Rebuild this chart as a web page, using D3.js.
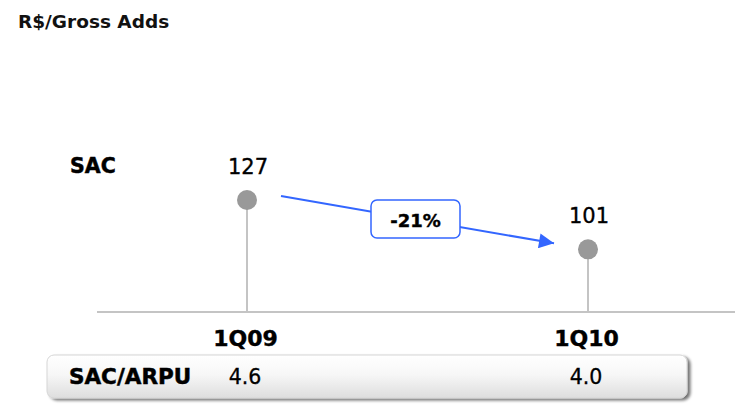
<!DOCTYPE html>
<html>
<head>
<meta charset="utf-8">
<script src="https://cdn.jsdelivr.net/npm/d3@7"></script>
<style>
  html, body { margin: 0; padding: 0; background: #fff; }
  svg { display: block; font-family: "DejaVu Sans", "Liberation Sans", Arial, sans-serif; }
</style>
</head>
<body>
<svg id="chart" width="735" height="404"></svg>
<script>
// Subscriber acquisition cost per gross add, by quarter
const quarters = ["1Q09", "1Q10"];
const sacValues = [127, 101];
const sacArpu = ["4.6", "4.0"];
const changeLabel = "-21%";

const svg = d3.select("#chart");
const W = 735;

const x = d3.scalePoint().domain(quarters).range([247, 588]);
const y = d3.scaleLinear().domain([68, 127]).range([312, 200]);

const defs = svg.append("defs");

const grad = defs.append("linearGradient")
  .attr("id", "bandFill").attr("x1", 0).attr("y1", 0).attr("x2", 0).attr("y2", 1);
grad.append("stop").attr("offset", "0%").attr("stop-color", "#ffffff");
grad.append("stop").attr("offset", "45%").attr("stop-color", "#f7f7f7");
grad.append("stop").attr("offset", "100%").attr("stop-color", "#dedede");

const shadow = defs.append("filter").attr("id", "bandShadow")
  .attr("x", "-5%").attr("y", "-20%").attr("width", "110%").attr("height", "150%");
shadow.append("feGaussianBlur").attr("in", "SourceAlpha").attr("stdDeviation", 1.6).attr("result", "b");
shadow.append("feOffset").attr("in", "b").attr("dx", 2.5).attr("dy", 2).attr("result", "o");
shadow.append("feComponentTransfer").attr("in", "o").attr("result", "s")
  .append("feFuncA").attr("type", "linear").attr("slope", 0.55);
const merge = shadow.append("feMerge");
merge.append("feMergeNode").attr("in", "s");
merge.append("feMergeNode").attr("in", "SourceGraphic");

defs.append("marker")
  .attr("id", "arrowHead")
  .attr("viewBox", "0 0 10 10")
  .attr("refX", 10).attr("refY", 5)
  .attr("markerUnits", "userSpaceOnUse")
  .attr("markerWidth", 17).attr("markerHeight", 15)
  .attr("orient", "auto")
  .append("path").attr("d", "M0,0 L10,5 L0,10 Z").attr("fill", "#3366ff");

// Title
svg.append("text")
  .attr("x", 18).attr("y", 28)
  .attr("font-size", 18.5).attr("font-weight", "bold").attr("fill", "#111")
  .text("R$/Gross Adds");

// Series label
svg.append("text")
  .attr("x", 70).attr("y", 173)
  .attr("font-size", 20.5).attr("font-weight", "bold").attr("fill", "#000")
  .attr("stroke", "#000").attr("stroke-width", 0.5)
  .text("SAC");

// Baseline
svg.append("line")
  .attr("x1", 97).attr("x2", W)
  .attr("y1", y(68)).attr("y2", y(68))
  .attr("stroke", "#c4c4c4").attr("stroke-width", 2);

// Lollipop stems and heads
const pts = quarters.map((q, i) => ({ q, v: sacValues[i], r: sacArpu[i] }));

svg.selectAll("line.stem").data(pts).enter().append("line")
  .attr("class", "stem")
  .attr("x1", d => x(d.q)).attr("x2", d => x(d.q))
  .attr("y1", y(68)).attr("y2", d => y(d.v))
  .attr("stroke", "#c4c4c4").attr("stroke-width", 2);

svg.selectAll("circle.head").data(pts).enter().append("circle")
  .attr("class", "head")
  .attr("cx", d => x(d.q)).attr("cy", d => y(d.v)).attr("r", 10)
  .attr("fill", "#999999");

svg.selectAll("text.val").data(pts).enter().append("text")
  .attr("class", "val")
  .attr("x", d => x(d.q) + 1).attr("y", d => y(d.v) - 26)
  .attr("text-anchor", "middle")
  .attr("font-size", 21).attr("fill", "#000")
  .attr("stroke", "#000").attr("stroke-width", 0.35)
  .text(d => d.v);

// Category labels
svg.selectAll("text.cat").data(pts).enter().append("text")
  .attr("class", "cat")
  .attr("x", d => x(d.q) - 1.5).attr("y", 346)
  .attr("text-anchor", "middle")
  .attr("font-size", 22).attr("font-weight", "bold").attr("fill", "#000")
  .attr("stroke", "#000").attr("stroke-width", 0.4)
  .text(d => d.q);

// Change arrow between the two quarters
const a0 = [x(quarters[0]) + 34, y(sacValues[0]) - 4];
const a1 = [x(quarters[1]) - 34, y(sacValues[1]) - 6];
svg.append("line")
  .attr("x1", a0[0]).attr("y1", a0[1])
  .attr("x2", a1[0]).attr("y2", a1[1])
  .attr("stroke", "#3366ff").attr("stroke-width", 2)
  .attr("marker-end", "url(#arrowHead)");

const bx = 371, by = 200, bw = 89, bh = 38;
svg.append("rect")
  .attr("x", bx).attr("y", by).attr("width", bw).attr("height", bh)
  .attr("rx", 6)
  .attr("fill", "#fff").attr("stroke", "#3366ff").attr("stroke-width", 1.5);
svg.append("text")
  .attr("x", bx + bw / 2).attr("y", by + 27)
  .attr("text-anchor", "middle")
  .attr("font-size", 18).attr("font-weight", "bold").attr("fill", "#000")
  .attr("stroke", "#000").attr("stroke-width", 0.4)
  .text(changeLabel);

// SAC/ARPU band
svg.append("rect")
  .attr("x", 47).attr("y", 355).attr("width", 640).attr("height", 43)
  .attr("rx", 7)
  .attr("fill", "url(#bandFill)")
  .attr("stroke", "#d6d6d6").attr("stroke-width", 1)
  .attr("filter", "url(#bandShadow)");

svg.append("text")
  .attr("x", 69).attr("y", 384)
  .attr("font-size", 21.5).attr("font-weight", "bold").attr("fill", "#000")
  .attr("stroke", "#000").attr("stroke-width", 0.5)
  .text("SAC/ARPU");

svg.selectAll("text.ratio").data(pts).enter().append("text")
  .attr("class", "ratio")
  .attr("x", d => x(d.q) - 2).attr("y", 384)
  .attr("text-anchor", "middle")
  .attr("font-size", 20.5).attr("fill", "#000")
  .attr("stroke", "#000").attr("stroke-width", 0.3)
  .text(d => d.r);
</script>
</body>
</html>
